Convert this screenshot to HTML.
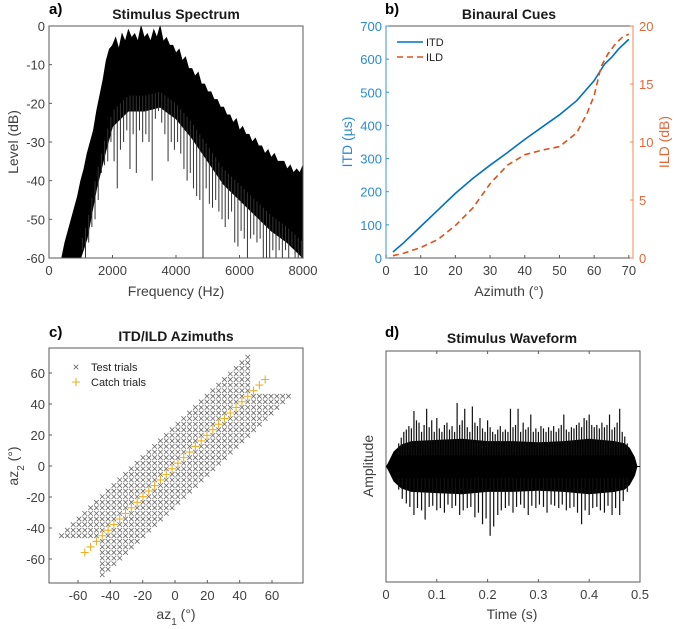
<!DOCTYPE html>
<html><head><meta charset="utf-8"><style>
body{margin:0;background:#fff;}
svg{display:block;font-family:"Liberation Sans",sans-serif;}
.tk{font-size:13px;fill:#404040;}
.ttl{font-size:14px;font-weight:bold;fill:#1a1a1a;}
.lab{font-size:14px;fill:#404040;}
.pl{font-size:15px;font-weight:bold;fill:#000;}
</style></head><body>
<svg id="fig" width="678" height="629">
<g id="ga"></g>
<g id="gb"></g>
<g id="gc"></g>
<g id="gd"></g>
</svg>
<script>
// ---- Panel a data ----
const specUpF = [400,500,600,700,800,900,1000,1100,1200,1300,1400,1500,1600,1700,1800,1900,2000,2100,2200,2300,2400,2500,2600,2700,2800,2900,3000,3100,3200,3300,3400,3500,3600,3700,3800,3900,4000,4100,4200,4300,4400,4500,4600,4700,4800,4900,5000,5100,5200,5300,5400,5500,5600,5700,5800,5900,6000,6100,6200,6300,6400,6500,6600,6700,6800,6900,7000,7100,7200,7300,7400,7500,7600,7700,7800,7900,8000];
const specUpV = [-60,-56,-53,-50,-47,-44,-40,-37,-33,-30,-27,-22,-18,-14,-9,-6,-5,-3,-6,-2,-4,-1,-3,-2,-4,0,-3,-2,-4,-1,-3,0,-4,-3,-5,-5,-7,-6,-9,-8,-11,-11,-13,-12,-15,-15,-17,-17,-19,-19,-21,-21,-23,-23,-25,-24,-27,-26,-28,-28,-30,-29,-31,-31,-33,-32,-34,-33,-35,-35,-35,-37,-36,-38,-37,-38,-36];
const specLoF = [400,700,1000,1200,1500,1800,2000,2500,3000,3500,4000,4500,5000,5500,6000,6500,7000,7500,8000];
const specLoV = [-60,-60,-60,-55,-42,-32,-26,-22,-22,-21,-24,-29,-35,-41,-45,-49,-53,-56,-60];
const specDipF = [1050,1150,1250,1350,1450,1550,1650,1750,1850,1950,2050,2150,2250,2350,2450,2550,2650,2750,2850,2950,3050,3150,3250,3350,3450,3550,3650,3750,3850,3950,4050,4150,4250,4350,4450,4550,4650,4750,4850,4950,5050,5150,5250,5350,5450,5550,5650,5750,5850,5950,6050,6150,6250,6350,6450,6550,6650,6750,6850,6950,7050,7150,7250,7350,7450,7550,7650,7750,7850,7950];
const specDipV = [-58,-60,-56,-52,-50,-45,-38,-36,-35,-30,-35,-42,-32,-30,-27,-37,-28,-38,-27,-30,-28,-30,-40,-24,-22,-25,-28,-35,-30,-32,-30,-33,-37,-40,-38,-42,-44,-45,-60,-42,-46,-47,-45,-48,-50,-52,-50,-48,-56,-57,-53,-55,-60,-55,-54,-56,-55,-60,-60,-60,-58,-60,-58,-60,-58,-60,-57,-60,-60,-60];
const specXTicks = [0,2000,4000,6000,8000];
const specYTicks = [0,-10,-20,-30,-40,-50,-60];
// ---- Panel b data ----
const itdAz = [2,5,10,15,20,25,30,35,40,45,50,55,60,63,65,67,70];
const itdVal = [18,45,95,145,195,240,280,318,358,395,432,475,535,585,605,630,660];
const ildAz = [2,5,10,15,20,25,30,35,40,45,50,55,58,60,62,64,66,68,70];
const ildVal = [0.2,0.4,0.9,1.6,2.8,4.3,6.4,8.0,8.9,9.3,9.6,10.8,12.5,14,16.5,17.6,18.4,19,19.3];
const bXTicks = [0,10,20,30,40,50,60,70];
const bYTicks = [0,100,200,300,400,500,600,700];
const bY2Ticks = [0,5,10,15,20];
// ---- Panel c data ----
const azLevels = [1.8,5.4,9,12.6,16.2,19.8,23.4,27,30.6,34.2,37.8,41.4,45,48.6,52.2,55.8,59.4,63,66.6,70.2];
const catchLevels = [1.8,5.4,9,12.6,16.2,19.8,23.4,27,30.6,34.2,37.8,41.4,45,48.6,52.2,55.8];
const cTicks = [-60,-40,-20,0,20,40,60];
// ---- Panel d data ----
const envT = [0,0.005,0.015,0.03,0.05,0.1,0.15,0.2,0.25,0.3,0.35,0.4,0.45,0.47,0.48,0.49,0.495];
const envA = [0,0.04,0.13,0.19,0.22,0.23,0.24,0.22,0.22,0.21,0.22,0.24,0.22,0.2,0.16,0.08,0];
const spkUpT = [0.025,0.03,0.035,0.04,0.045,0.05,0.055,0.06,0.065,0.07,0.075,0.08,0.085,0.09,0.095,0.1,0.105,0.11,0.115,0.12,0.125,0.13,0.135,0.14,0.145,0.15,0.155,0.16,0.165,0.17,0.175,0.18,0.185,0.19,0.195,0.2,0.205,0.21,0.215,0.22,0.225,0.23,0.235,0.24,0.245,0.25,0.255,0.26,0.265,0.27,0.275,0.28,0.285,0.29,0.295,0.3,0.305,0.31,0.315,0.32,0.325,0.33,0.335,0.34,0.345,0.35,0.355,0.36,0.365,0.37,0.375,0.38,0.385,0.39,0.395,0.4,0.405,0.41,0.415,0.42,0.425,0.43,0.435,0.44,0.445,0.45,0.455,0.46,0.465,0.47,0.475];
const spkUpA = [0.2,0.25,0.3,0.32,0.35,0.33,0.48,0.4,0.38,0.3,0.36,0.5,0.34,0.4,0.3,0.42,0.33,0.3,0.36,0.38,0.32,0.35,0.3,0.55,0.36,0.4,0.5,0.34,0.3,0.52,0.38,0.35,0.42,0.33,0.3,0.4,0.34,0.3,0.28,0.32,0.35,0.3,0.32,0.3,0.5,0.34,0.36,0.5,0.3,0.38,0.32,0.34,0.45,0.3,0.33,0.3,0.35,0.33,0.3,0.34,0.31,0.35,0.3,0.33,0.36,0.45,0.32,0.3,0.34,0.33,0.36,0.38,0.34,0.42,0.4,0.45,0.36,0.34,0.36,0.33,0.38,0.34,0.36,0.45,0.32,0.34,0.38,0.5,0.3,0.26,0.2];
const spkDnT = [0.025,0.032,0.04,0.047,0.055,0.062,0.07,0.077,0.085,0.092,0.1,0.107,0.115,0.122,0.13,0.137,0.145,0.152,0.16,0.167,0.175,0.182,0.19,0.197,0.205,0.212,0.22,0.227,0.235,0.242,0.25,0.257,0.265,0.272,0.28,0.287,0.295,0.302,0.31,0.317,0.325,0.332,0.34,0.347,0.355,0.362,0.37,0.377,0.385,0.392,0.4,0.407,0.415,0.422,0.43,0.437,0.445,0.452,0.46,0.467,0.475];
const spkDnA = [-0.2,-0.28,-0.32,-0.35,-0.42,-0.36,-0.38,-0.46,-0.35,-0.34,-0.38,-0.36,-0.4,-0.33,-0.36,-0.34,-0.42,-0.38,-0.36,-0.35,-0.44,-0.4,-0.5,-0.45,-0.6,-0.52,-0.42,-0.38,-0.36,-0.34,-0.4,-0.35,-0.33,-0.36,-0.42,-0.34,-0.36,-0.33,-0.35,-0.4,-0.33,-0.34,-0.36,-0.33,-0.38,-0.36,-0.35,-0.4,-0.5,-0.38,-0.42,-0.36,-0.35,-0.38,-0.4,-0.34,-0.42,-0.36,-0.42,-0.3,-0.22];
const dXTicks = [0,0.1,0.2,0.3,0.4,0.5];

const NS="http://www.w3.org/2000/svg";
function mk(parent,tag,attrs,text){const e=document.createElementNS(NS,tag);for(const k in attrs)e.setAttribute(k,attrs[k]);if(text!==undefined)e.textContent=text;parent.appendChild(e);return e;}
function lin(d0,d1,r0,r1){return v=>r0+(v-d0)*(r1-r0)/(d1-d0);}
function interp(xs,ys,v){for(let i=1;i<xs.length;i++){if(v<=xs[i]){const t=(v-xs[i-1])/(xs[i]-xs[i-1]);return ys[i-1]+t*(ys[i]-ys[i-1]);}}return ys[ys.length-1];}
function frame(g,L,T,R,B,color){
  const f=mk(g,'rect',{x:L,y:T,width:R-L,height:B-T,fill:'none',stroke:color||'#5a5a5a','stroke-width':1});
  
  
}
function txt(g,x,y,s,cls,anchor,name,extra){
  const t=mk(g,'text',Object.assign({x:x,y:y,class:cls,'text-anchor':anchor||'middle'},extra||{}),s);
  
  
  return t;
}

// ===== Panel a =====
(function(){
  const g=document.getElementById('ga');const L=49,R=303,T=26,B=258;
  const x=lin(0,8000,L,R), y=lin(-60,0,B,T);
  let pts=[];
  for(let i=0;i<specUpF.length;i++)pts.push(x(specUpF[i])+','+y(specUpV[i]));
  for(let i=specLoF.length-1;i>=0;i--)pts.push(x(specLoF[i])+','+y(specLoV[i]));
  const p=mk(g,'polygon',{points:pts.join(' '),fill:'#000',stroke:'#000','stroke-width':0.8});
  
  
  for(let i=0;i<specDipF.length;i++){
    const top=interp(specLoF,specLoV,specDipF[i])+4;
    const l=mk(g,'line',{x1:x(specDipF[i]),x2:x(specDipF[i]),y1:y(top),y2:y(specDipV[i]),stroke:'#333','stroke-width':1});
    
    
  }
  frame(g,L,T,R,B);
  specXTicks.forEach(v=>{mk(g,'line',{x1:x(v),x2:x(v),y1:B,y2:B-3,stroke:'#5a5a5a'});txt(g,x(v),B+17,String(v),'tk','middle','x-tick-label');});
  specYTicks.forEach(v=>{mk(g,'line',{x1:L,x2:L+3,y1:y(v),y2:y(v),stroke:'#5a5a5a'});txt(g,L-4,y(v)+5,String(v),'tk','end','y-tick-label');});
  txt(g,176,19,'Stimulus Spectrum','ttl','middle','title');
  txt(g,176,296,'Frequency (Hz)','lab','middle','x-axis-title');
  txt(g,18,142,'Level (dB)','lab','middle','y-axis-title',{transform:'rotate(-90 18 142)'});
  txt(g,49,14,'a)','pl','start','panel-label');
})();

// ===== Panel b =====
(function(){
  const g=document.getElementById('gb');const L=386,R=633,T=26,B=258;
  const x=lin(0,71.2,L,R), y=lin(0,700,B,T), y2=lin(0,20,B,T);
  frame(g,L,T,R,B);
  mk(g,'line',{x1:L,x2:L,y1:T,y2:B,stroke:'#3a93d8'});
  mk(g,'line',{x1:R,x2:R,y1:T,y2:B,stroke:'#f08a5a'});
  const itd=mk(g,'polyline',{points:itdAz.map((a,i)=>x(a)+','+y(itdVal[i])).join(' '),fill:'none',stroke:'#0072BD','stroke-width':1.6});
  
  
  const ild=mk(g,'polyline',{points:ildAz.map((a,i)=>x(a)+','+y2(ildVal[i])).join(' '),fill:'none',stroke:'#D95319','stroke-width':1.6,'stroke-dasharray':'6,4'});
  
  
  bXTicks.forEach(v=>{mk(g,'line',{x1:x(v),x2:x(v),y1:B,y2:B-3,stroke:'#5a5a5a'});txt(g,x(v),B+17,String(v),'tk','middle','x-tick-label');});
  bYTicks.forEach(v=>{mk(g,'line',{x1:L,x2:L+3,y1:y(v),y2:y(v),stroke:'#3a93d8'});txt(g,L-4,y(v)+5,String(v),'tk','end','itd-tick-label',{style:'fill:#2a8ad4'});});
  bY2Ticks.forEach(v=>{mk(g,'line',{x1:R,x2:R-3,y1:y2(v),y2:y2(v),stroke:'#f08a5a'});txt(g,R+6,y2(v)+5,String(v),'tk','start','ild-tick-label',{style:'fill:#e0683a'});});
  txt(g,509,19,'Binaural Cues','ttl','middle','title');
  txt(g,509,296,'Azimuth (°)','lab','middle','x-axis-title');
  txt(g,352,142,'ITD (µs)','lab','middle','y-axis-left-title',{transform:'rotate(-90 352 142)',style:'fill:#2a8ad4'});
  txt(g,669,142,'ILD (dB)','lab','middle','y-axis-right-title',{transform:'rotate(-90 669 142)',style:'fill:#e0683a'});
  txt(g,385,14,'b)','pl','start','panel-label');
  mk(g,'line',{x1:397,x2:423,y1:42,y2:42,stroke:'#0072BD','stroke-width':1.6});
  txt(g,426,46,'ITD','tk','start','legend-itd',{style:'font-size:11px;fill:#222'});
  mk(g,'line',{x1:397,x2:423,y1:57,y2:57,stroke:'#D95319','stroke-width':1.6,'stroke-dasharray':'6,4'});
  txt(g,426,61,'ILD','tk','start','legend-ild',{style:'font-size:11px;fill:#222'});
})();

// ===== Panel c =====
(function(){
  const g=document.getElementById('gc');const L=49,R=303,T=348,B=583;
  const x=lin(-60,60,78,272), y=lin(-60,60,559,373);
  frame(g,L,T,R,B);
  const lv=azLevels.map(v=>-v).reverse().concat(azLevels);
  const cv=catchLevels.map(v=>-v).reverse().concat(catchLevels);
  function cross(px,py,name){
    const p=mk(g,'path',{d:`M${px-2.3},${py-2.3}L${px+2.3},${py+2.3}M${px-2.3},${py+2.3}L${px+2.3},${py-2.3}`,stroke:'#666','stroke-width':0.8});
    
    
  }
  function plus(px,py,name){
    const p=mk(g,'path',{d:`M${px-4},${py}L${px+4},${py}M${px},${py-4}L${px},${py+4}`,stroke:'#EDB120','stroke-width':1.1});
    
    
  }
  lv.forEach(a1=>lv.forEach(a2=>{
    const d=a2-a1;
    if(Math.abs(d)<0.5||Math.abs(d)>27.5)return;
    if(Math.abs(a1)>46&&Math.abs(a2)>46)return;
    if((Math.abs(a1)>46||Math.abs(a2)>46)&&Math.abs(d)>25.5)return;
    cross(x(a1),y(a2),'test-trial');
  }));
  cv.forEach(a=>plus(x(a),y(a),'catch-trial'));
  cTicks.forEach(v=>{mk(g,'line',{x1:x(v),x2:x(v),y1:B,y2:B-3,stroke:'#5a5a5a'});txt(g,x(v),B+17,String(v),'tk','middle','x-tick-label');
    mk(g,'line',{x1:L,x2:L+3,y1:y(v),y2:y(v),stroke:'#5a5a5a'});txt(g,L-4,y(v)+5,String(v),'tk','end','y-tick-label');});
  txt(g,176,341,'ITD/ILD Azimuths','ttl','middle','title');
  const xt=txt(g,176,619,'','lab','middle','x-axis-title');
  xt.innerHTML='az<tspan baseline-shift="sub" font-size="10">1</tspan> (°)';
  const yt=txt(g,18,466,'','lab','middle','y-axis-title',{transform:'rotate(-90 18 466)'});
  yt.innerHTML='az<tspan baseline-shift="sub" font-size="10">2</tspan> (°)';
  txt(g,49,337,'c)','pl','start','panel-label');
  cross(76,367,'legend-test-marker');
  txt(g,91,371,'Test trials','tk','start','legend-test',{style:'font-size:11px;fill:#222'});
  plus(76,382,'legend-catch-marker');
  txt(g,91,386,'Catch trials','tk','start','legend-catch',{style:'font-size:11px;fill:#222'});
})();

// ===== Panel d =====
(function(){
  const g=document.getElementById('gd');const L=386,R=640,T=351,B=582;
  const x=lin(0,0.5,L,R), y=lin(-1,1,B,T);
  frame(g,L,T,R,B);
  let pts=[];
  envT.forEach((t,i)=>pts.push(x(t)+','+y(envA[i])));
  for(let i=envT.length-1;i>=0;i--)pts.push(x(envT[i])+','+y(-envA[i]));
  const p=mk(g,'polygon',{points:pts.join(' '),fill:'#000'});
  
  
  mk(g,'line',{x1:L,x2:R,y1:y(0),y2:y(0),stroke:'#000','stroke-width':1});
  spkUpT.forEach((t,i)=>{const l=mk(g,'line',{x1:x(t),x2:x(t),y1:y(0.1),y2:y(spkUpA[i]),stroke:'#111','stroke-width':1.2});
    
    });
  spkDnT.forEach((t,i)=>{const l=mk(g,'line',{x1:x(t),x2:x(t),y1:y(-0.1),y2:y(spkDnA[i]),stroke:'#111','stroke-width':1.2});
    
    });
  dXTicks.forEach(v=>{mk(g,'line',{x1:x(v),x2:x(v),y1:B,y2:B-3,stroke:'#5a5a5a'});mk(g,'line',{x1:x(v),x2:x(v),y1:T,y2:T+3,stroke:'#5a5a5a'});txt(g,x(v),B+17,String(v),'tk','middle','x-tick-label');});
  txt(g,512,343,'Stimulus Waveform','ttl','middle','title');
  txt(g,512,619,'Time (s)','lab','middle','x-axis-title');
  txt(g,373,466,'Amplitude','lab','middle','y-axis-title',{transform:'rotate(-90 373 466)'});
  txt(g,385,337,'d)','pl','start','panel-label');
})();
</script>
</body></html>
